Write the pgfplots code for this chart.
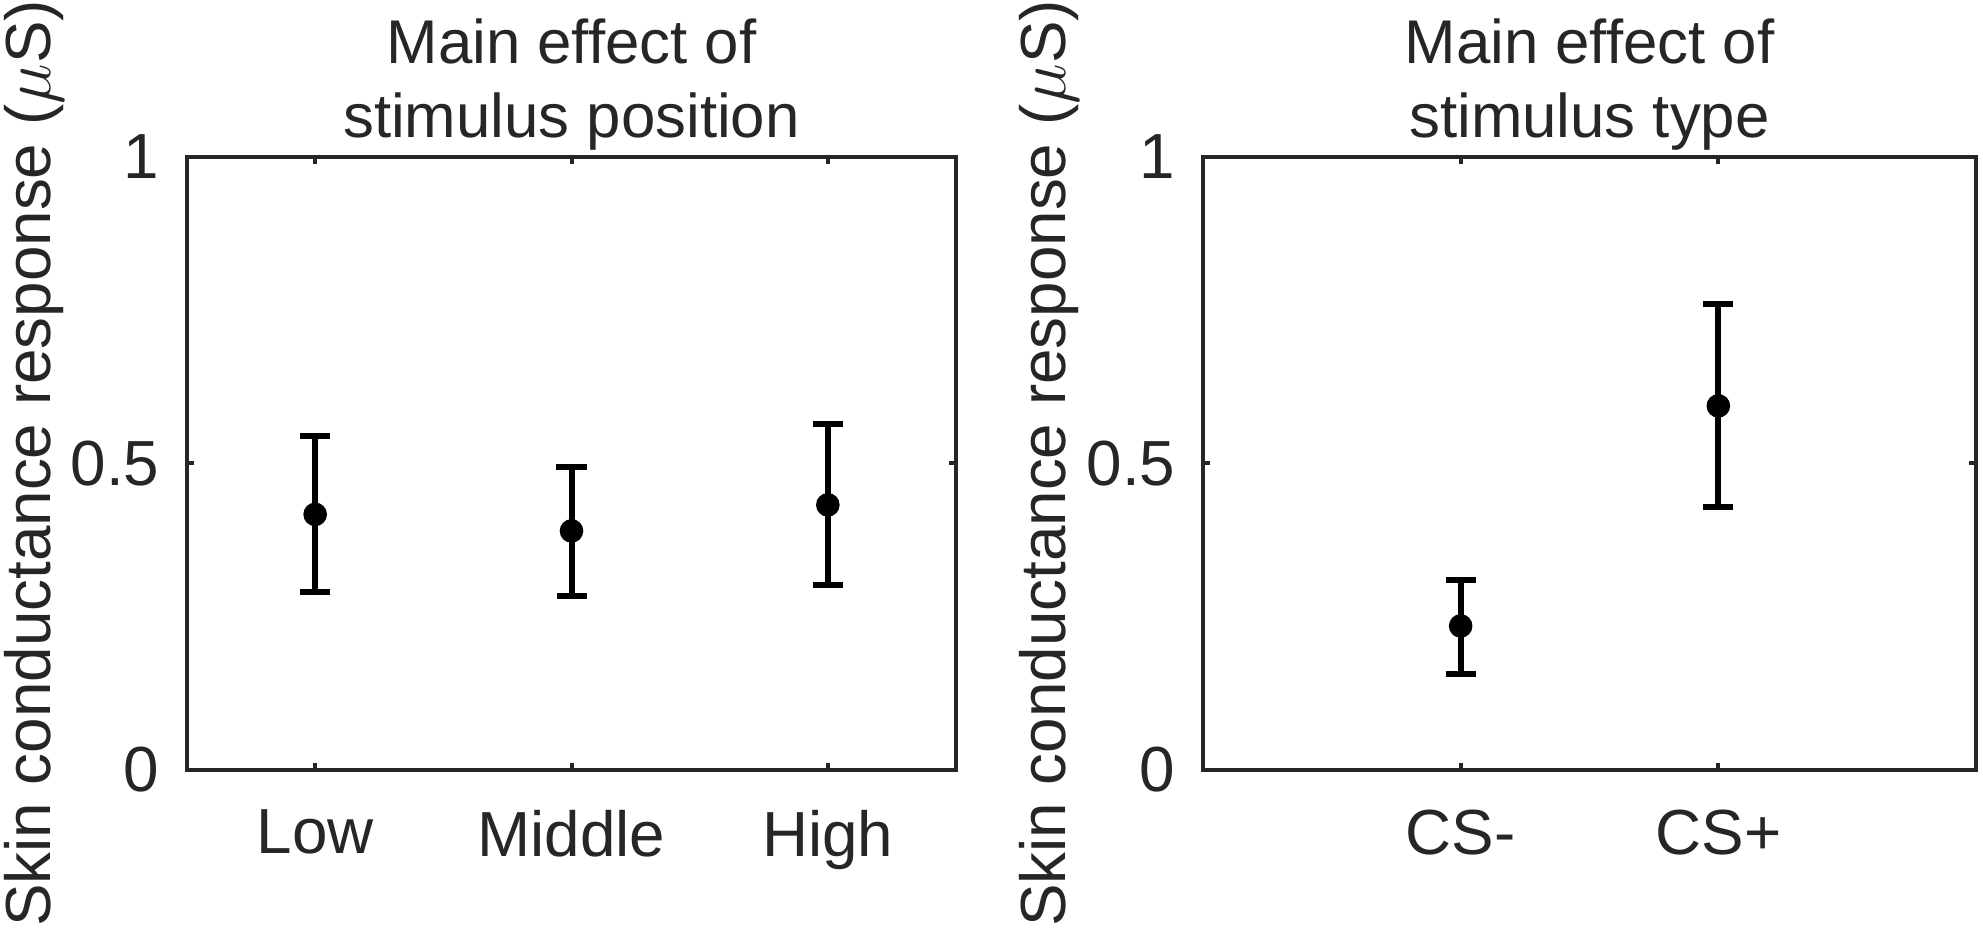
\documentclass[border=0pt]{standalone}
\usepackage{fontspec}
\setmainfont{Liberation Sans}
\usepackage{pgfplots}
\pgfplotsset{compat=1.18}
\usepackage{pgfplotstable}
\definecolor{axgray}{HTML}{262626}

\pgfplotstableread{
x y ep em
1 0.417 0.128 0.127
2 0.390 0.104 0.106
3 0.4325 0.1325 0.1315
}\tabpos
\pgfplotstableread{
x y ep em
1 0.235 0.0745 0.0785
2 0.594 0.166 0.165
}\tabtype

\pgfplotsset{
  myaxis/.style={
    scale only axis,
    height=153.25bp,
    anchor=south west,
    ymin=0, ymax=1,
    ytick={0,0.5,1},
    yticklabels={0,0.5,1},
    tick align=inside,
    major tick length=1.75bp,
    axis line style={color=axgray, line width=1bp},
    every tick/.style={color=axgray, line width=1bp},
    tick label style={font=\fontsize{16}{19}\selectfont, color=axgray},
    yticklabel style={inner sep=0pt, anchor=east, xshift=-6.75bp},
    xticklabel style={inner sep=0pt, anchor=north, yshift=-9.75bp},
    every axis title shift=0pt,
    title style={at={(0.5,1)}, anchor=south, inner sep=0pt, yshift=1.5bp,
      align=center, font=\fontsize{15.5}{18.5}\selectfont, color=axgray},
    ylabel style={at={(axis description cs:-0.178,0.5)}, anchor=base,
      inner sep=0pt, font=\fontsize{16}{19}\selectfont, color=axgray},
    ylabel={Skin conductance response ($\mu$S)},
  },
  myplot/.style={
    only marks, mark=*, color=black,
    mark options={fill=black, draw=black, mark size=2.75bp},
    error bars/.cd, y dir=both, y explicit,
    error bar style={line width=1.5bp, black},
    error mark options={line width=1.5bp, mark size=3.75bp, black, rotate=90},
  },
}

\begin{document}
\begin{tikzpicture}
\useasboundingbox (0,0) rectangle (495.75bp,232.25bp);
\begin{axis}[myaxis,
  at={(46.75bp,39.75bp)},
  width=192.25bp,
  xmin=0.5, xmax=3.5,
  xtick={1,2,3},
  xticklabels={Low,Middle,High},
  title={Main effect of\\stimulus position},
]
\addplot[myplot] table[x=x, y=y, y error plus=ep, y error minus=em]{\tabpos};
\end{axis}
\begin{axis}[myaxis,
  at={(300.75bp,39.75bp)},
  width=193.25bp,
  xmin=0, xmax=3,
  xtick={1,2},
  xticklabels={CS-,CS+},
  title={Main effect of\\stimulus type},
]
\addplot[myplot] table[x=x, y=y, y error plus=ep, y error minus=em]{\tabtype};
\end{axis}
\end{tikzpicture}
\end{document}
